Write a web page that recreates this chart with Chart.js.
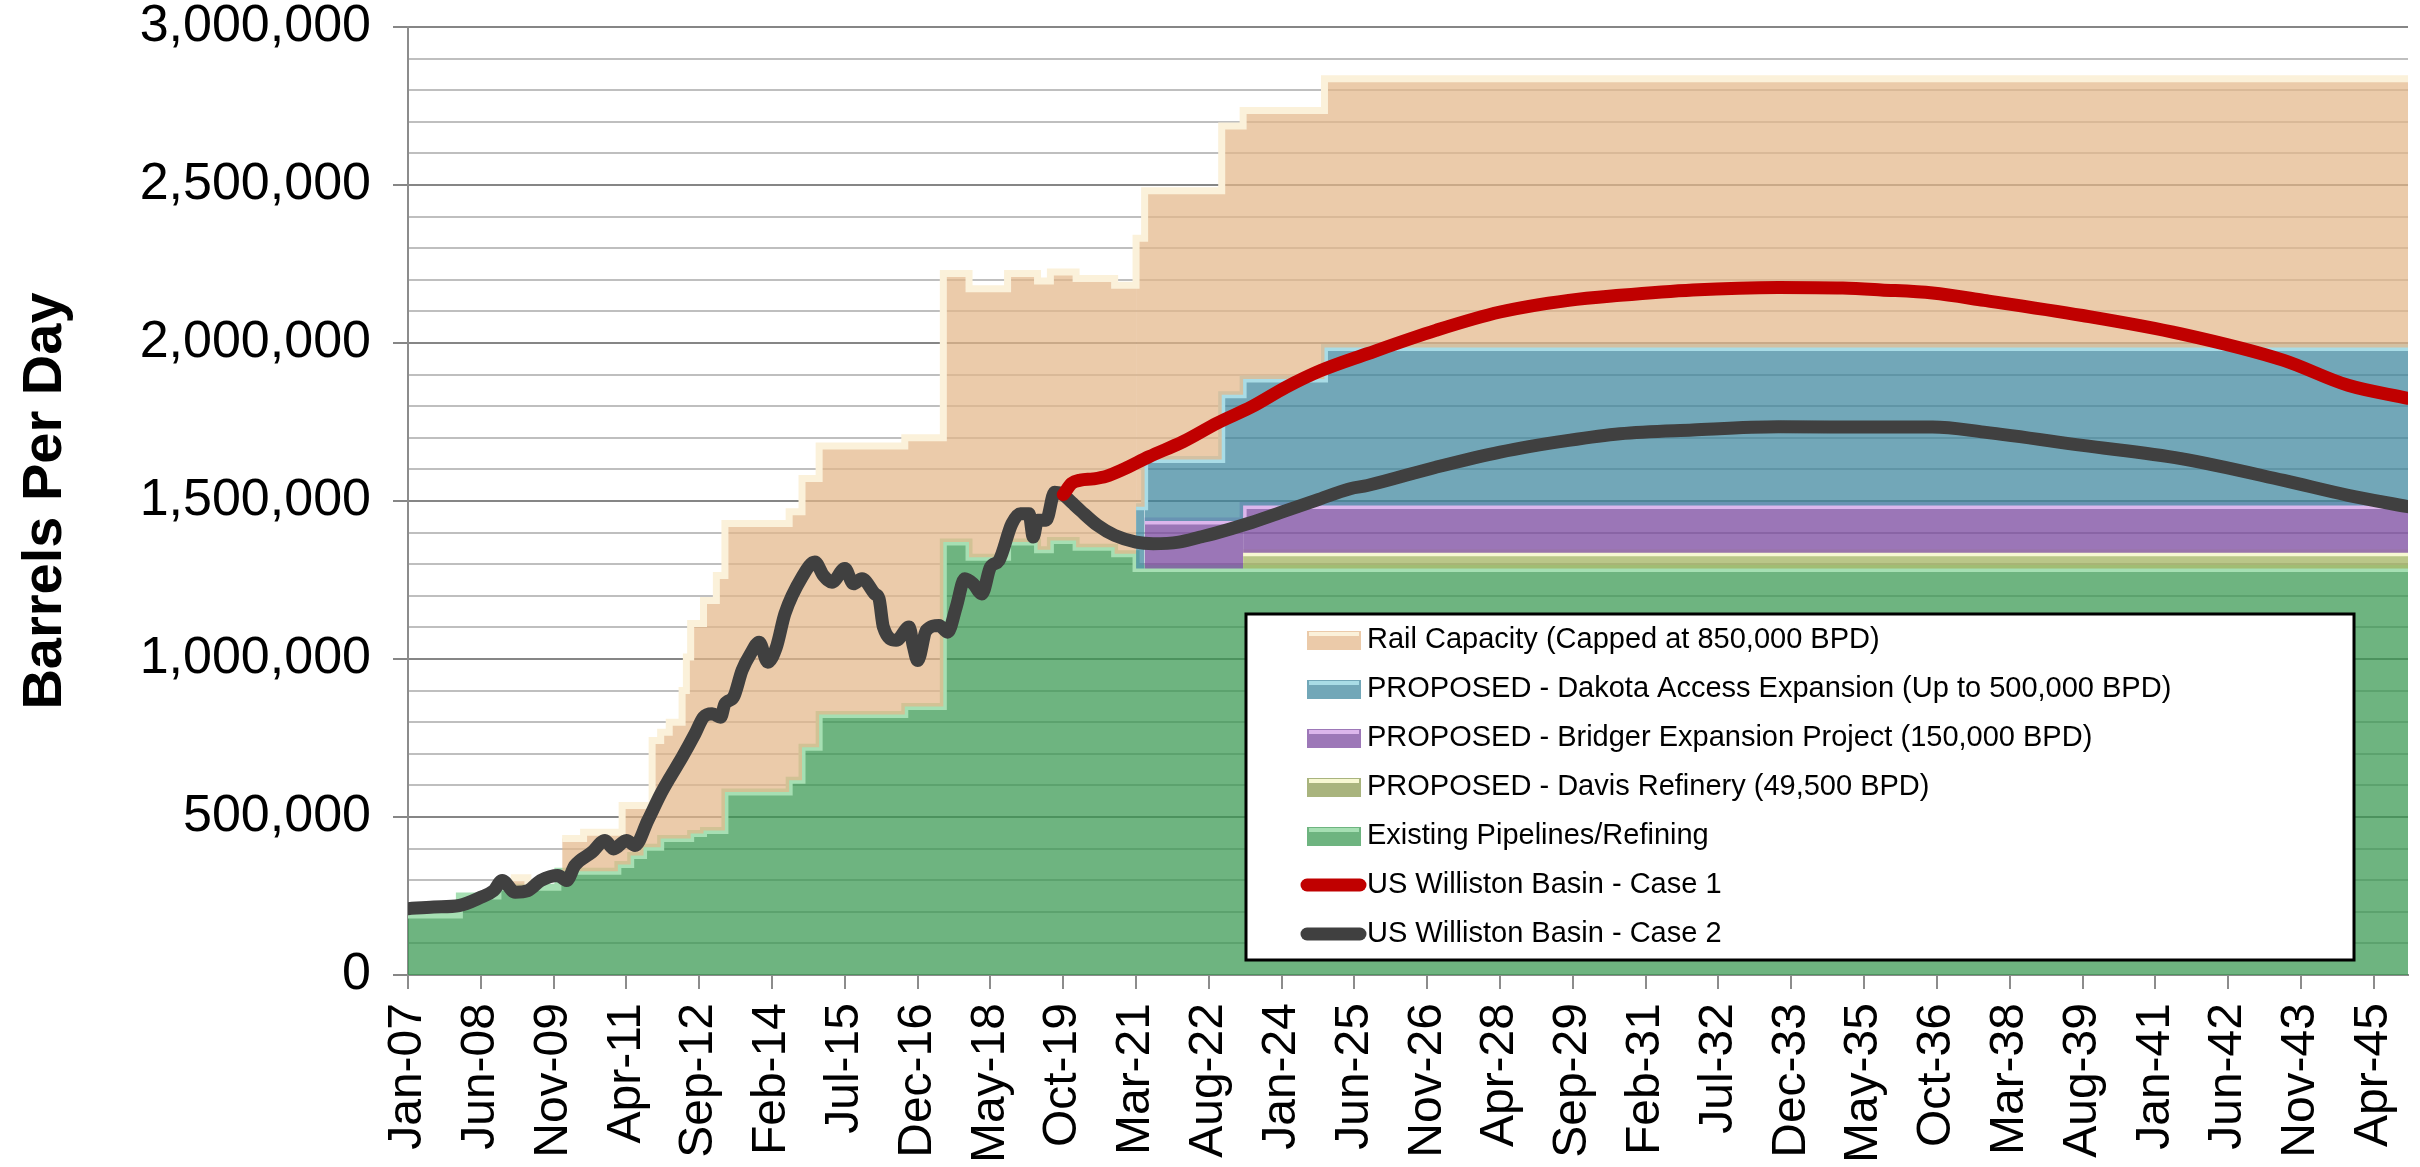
<!DOCTYPE html>
<html>
<head>
<meta charset="utf-8">
<script src="https://cdn.jsdelivr.net/npm/chart.js@4.4.1/dist/chart.umd.min.js"></script>
<style>
  html, body { margin: 0; padding: 0; background: #fff; }
  canvas { display: block; }
</style>
</head>
<body>
<canvas id="myChart" width="2420" height="1167"></canvas>
<script>
// x is a month count: 0 = Jan-07 ... 467 = Dec-45
const lastMonth = 467;
const tickStep = 17;
const tickLabels = ["Jan-07", "Jun-08", "Nov-09", "Apr-11", "Sep-12", "Feb-14", "Jul-15", "Dec-16",
    "May-18", "Oct-19", "Mar-21", "Aug-22", "Jan-24", "Jun-25", "Nov-26", "Apr-28", "Sep-29",
    "Feb-31", "Jul-32", "Dec-33", "May-35", "Oct-36", "Mar-38", "Aug-39", "Jan-41", "Jun-42",
    "Nov-43", "Apr-45"];

// capacity layers: month where the level changes, then the level (BPD) from that month on
const existingMonths = [0, 12, 21, 35, 49, 52, 55, 59, 66, 69, 74, 89, 92, 96, 116, 125, 131, 140, 147, 150, 156, 165, 170];
const existingBpd = [190000, 250000, 278000, 328000, 350000, 378000, 404000, 432000, 448000, 457000, 579000,
    616000, 721000, 824000, 850000, 1370000, 1322000, 1370000, 1346000, 1375000, 1354000, 1333000, 1286500];

const davisMonths = [0, 195];
const davisBpd = [0, 49500];

const bridgerMonths = [0, 172];
const bridgerBpd = [0, 150000];

const dakotaMonths = [0, 170, 190, 214];
const dakotaBpd = [0, 195000, 400000, 500000];

const railMonths = [0, 24, 28, 36, 41, 49, 50, 52, 55, 57, 59, 61, 64, 65, 66, 69, 72, 74];
const railBpd = [0, 30000, 0, 104000, 124000, 102000, 186000, 158000, 132000, 338000, 336000,
    368000, 468000, 574000, 664000, 728000, 807000, 850000];

// production cases
const case1Months = [153, 155, 157, 160, 163, 167, 173, 181, 189, 197, 205, 213, 224, 240, 255, 271, 283,
    300, 320, 335, 344, 356, 368, 391, 414, 438, 453, 467];
const case1Bpd = [1520000, 1556000, 1566000, 1570000, 1578000, 1600000, 1640000, 1688000, 1747000, 1798000,
    1860000, 1912000, 1966000, 2040000, 2098000, 2135000, 2151000, 2168000, 2176000, 2174000, 2168000,
    2158000, 2135000, 2087000, 2029000, 1945000, 1866000, 1825000];

const case2Months = [0, 6, 12, 17, 20, 22, 25, 28, 31, 35, 37, 39, 43, 46, 48, 51, 53, 56, 59, 61,
    64, 67, 69, 71, 73, 74, 76, 78, 80, 82, 84, 86, 88, 92, 95, 97, 99, 102, 104, 106,
    109, 110, 111, 114, 117, 118, 119, 121, 124, 126, 128, 130, 132, 134, 136, 138, 141, 143, 145, 146,
    147, 149, 151, 153, 155, 157, 161, 165, 170, 174, 180, 185, 188, 196, 204, 212, 220, 224, 240, 255,
    271, 283, 300, 320, 344, 356, 368, 391, 414, 438, 453, 467];
const case2Bpd = [210000, 215000, 220000, 246000, 267000, 299000, 262000, 267000, 299000, 315000,
    299000, 347000, 389000, 426000, 399000, 426000, 410000, 489000, 573000, 621000,
    689000, 763000, 816000, 827000, 816000, 858000, 879000, 964000, 1017000, 1053000,
    990000, 1037000, 1143000, 1259000, 1307000, 1264000, 1243000, 1286000, 1238000, 1254000,
    1206000, 1190000, 1101000, 1059000, 1101000, 1040000, 995000, 1090000, 1106000, 1085000,
    1164000, 1254000, 1238000, 1206000, 1291000, 1312000, 1428000, 1460000, 1460000, 1386000,
    1439000, 1439000, 1528000, 1520000, 1495000, 1470000, 1423000, 1391000, 1370000, 1365000,
    1370000, 1386000, 1396000, 1428000, 1465000, 1502000, 1539000, 1549000, 1607000, 1655000,
    1692000, 1713000, 1725000, 1735000, 1734000, 1734000, 1718000, 1676000, 1634000, 1565000,
    1518000, 1482000];

// layers from the bottom up
const layers = [
    { label: "Existing Pipelines/Refining", months: existingMonths, values: existingBpd,
      fill: "rgba(54, 151, 79, 0.72)", edge: "#a6dfb3", swatch: "#6eb480" },
    { label: "PROPOSED - Davis Refinery (49,500 BPD)", months: davisMonths, values: davisBpd,
      fill: "rgba(160, 176, 90, 0.72)", edge: "#f7f8d2", swatch: "#a9b47e" },
    { label: "PROPOSED - Bridger Expansion Project (150,000 BPD)", months: bridgerMonths, values: bridgerBpd,
      fill: "rgba(116, 65, 155, 0.72)", edge: "#dcb6ec", swatch: "#9d78b8" },
    { label: "PROPOSED - Dakota Access Expansion (Up to 500,000 BPD)", months: dakotaMonths, values: dakotaBpd,
      fill: "rgba(59, 133, 156, 0.72)", edge: "#a9dce6", swatch: "#72a7b8" },
    { label: "Rail Capacity (Capped at 850,000 BPD)", months: railMonths, values: railBpd,
      fill: "rgba(227, 183, 137, 0.72)", edge: "#fbf1da", swatch: "#ebcaa9" }
];

function levelAt(months, values, m) {
    let v = 0;
    for (let i = 0; i < months.length; i++) {
        if (months[i] <= m) v = values[i];
    }
    return v;
}

const allMonths = [lastMonth];
layers.forEach(l => allMonths.push(...l.months));
const bandMonths = [...new Set(allMonths)].sort((a, b) => a - b);

const running = bandMonths.map(() => 0);
const layerSets = layers.map((l, k) => {
    const own = bandMonths.map(m => levelAt(l.months, l.values, m));
    own.forEach((v, i) => { running[i] += v; });
    const tops = running.slice();
    return {
        label: l.label,
        data: bandMonths.map((m, i) => ({ x: m, y: tops[i] })),
        stepped: true,
        fill: k === 0 ? "origin" : "+1",
        backgroundColor: l.fill,
        borderColor: l.edge,
        borderWidth: 7,
        pointRadius: 0,
        legendColor: l.swatch,
        segment: {
            borderColor: ctx => own[ctx.p0DataIndex] > 0 ? l.edge : "transparent"
        }
    };
});

function toPoints(months, values) {
    return months.map((m, i) => ({ x: m, y: values[i] }));
}

const case1 = {
    label: "US Williston Basin - Case 1",
    data: toPoints(case1Months, case1Bpd),
    borderColor: "#c00000",
    borderWidth: 13,
    fill: false,
    pointRadius: 0,
    cubicInterpolationMode: "monotone",
    borderJoinStyle: "round",
    borderCapStyle: "round"
};
const case2 = {
    label: "US Williston Basin - Case 2",
    data: toPoints(case2Months, case2Bpd),
    borderColor: "#404040",
    borderWidth: 13,
    fill: false,
    pointRadius: 0,
    cubicInterpolationMode: "monotone",
    borderJoinStyle: "round",
    borderCapStyle: "round"
};

// first dataset is drawn last (on top), so the layers go top-down after the lines
const datasets = [case1, case2].concat(layerSets.slice().reverse());
const legendOrder = [2, 3, 4, 5, 6, 0, 1];

const boxLegend = {
    id: "boxLegend",
    afterDraw(chart) {
        const ctx = chart.ctx;
        ctx.save();
        ctx.fillStyle = "#fff";
        ctx.fillRect(1246, 614, 1108, 346);
        ctx.lineWidth = 3;
        ctx.strokeStyle = "#000";
        ctx.strokeRect(1246, 614, 1108, 346);
        ctx.font = "29px 'Liberation Sans', Arial, sans-serif";
        ctx.textBaseline = "middle";
        legendOrder.forEach((idx, i) => {
            const ds = chart.data.datasets[idx];
            const y = 640 + i * 49;
            if (ds.fill === false) {
                ctx.strokeStyle = ds.borderColor;
                ctx.lineWidth = 13;
                ctx.lineCap = "round";
                ctx.beginPath();
                ctx.moveTo(1307, y);
                ctx.lineTo(1360, y);
                ctx.stroke();
            } else {
                ctx.fillStyle = ds.legendColor;
                ctx.fillRect(1307, y - 9, 54, 19);
                ctx.fillStyle = ds.borderColor;
                ctx.fillRect(1309, y - 8, 50, 4);
            }
            ctx.fillStyle = "#000";
            ctx.fillText(ds.label, 1367, y);
        });
        ctx.restore();
    }
};

Chart.defaults.font.family = "'Liberation Sans', Arial, sans-serif";
Chart.defaults.color = "#000";

const ctx = document.getElementById("myChart");
const myChart = new Chart(ctx, {
    type: "line",
    data: { datasets: datasets },
    plugins: [boxLegend],
    options: {
        responsive: false,
        animation: false,
        devicePixelRatio: 1,
        layout: { padding: { left: 0, right: 12, top: 27, bottom: 0 } },
        plugins: { legend: { display: false }, tooltip: { enabled: false } },
        scales: {
            x: {
                type: "linear",
                min: 0,
                max: lastMonth,
                afterBuildTicks: axis => {
                    axis.ticks = tickLabels.map((_, i) => ({ value: i * tickStep }));
                },
                afterFit: axis => {
                    axis.height = 192;
                    axis.paddingLeft = 0;
                    axis.paddingRight = 0;
                },
                ticks: {
                    autoSkip: false,
                    minRotation: 90,
                    maxRotation: 90,
                    padding: 14,
                    font: { size: 48 },
                    callback: v => tickLabels[Math.round(v / tickStep)]
                },
                grid: { drawOnChartArea: false, tickLength: 14, color: "#8c8c8c", lineWidth: 2 },
                border: { display: true, color: "#8c8c8c", width: 2 }
            },
            y: {
                min: 0,
                max: 3000000,
                afterFit: axis => {
                    axis.width = 408;
                    axis.paddingTop = 0;
                    axis.paddingBottom = 0;
                },
                ticks: {
                    stepSize: 100000,
                    autoSkip: false,
                    padding: 22,
                    font: { size: 52, lineHeight: 1 },
                    callback: v => v % 500000 === 0 ? v.toLocaleString("en-US") : ""
                },
                grid: {
                    lineWidth: 2,
                    tickLength: 15,
                    color: c => c.tick && c.tick.value % 500000 === 0 ? "#868686" : "#bfbfbf",
                    tickColor: c => c.tick && c.tick.value % 500000 === 0 ? "#868686" : "transparent"
                },
                border: { color: "#8c8c8c", width: 2 },
                title: {
                    display: true,
                    text: "Barrels Per Day",
                    font: { size: 56, weight: "bold" },
                    padding: { top: 12, bottom: 0 }
                }
            }
        }
    }
});
</script>
</body>
</html>
